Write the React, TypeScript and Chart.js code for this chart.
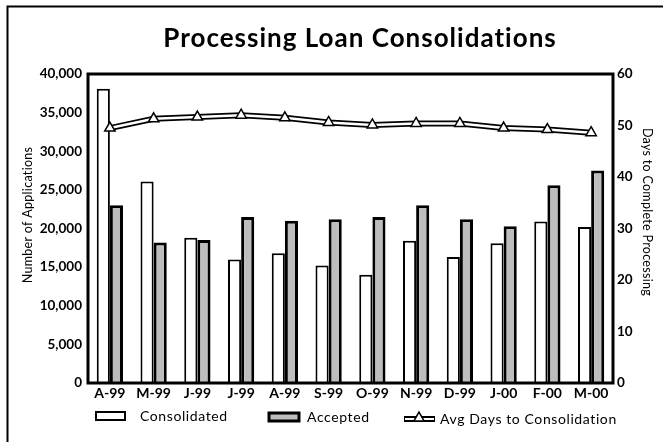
import { useEffect, useRef } from "react";
import { Chart, registerables } from "chart.js";

Chart.register(...registerables);

const months = ["A-99", "M-99", "J-99", "J-99", "A-99", "S-99", "O-99", "N-99", "D-99", "J-00", "F-00", "M-00"];
const consolidated = [38100, 26100, 18800, 16000, 16800, 15200, 14000, 18400, 16300, 18100, 20900, 20200];
const accepted = [23000, 18200, 18500, 21500, 21000, 21200, 21500, 23000, 21200, 20300, 25600, 27500];
const avgDays = [49.5, 51.3, 51.65, 52.0, 51.5, 50.6, 50.1, 50.4, 50.4, 49.5, 49.2, 48.6];

const titleText = "Processing Loan Consolidations";
const leftTitle = "Number of Applications";
const rightTitle = "Days to Complete Processing";
const legendLabels = ["Consolidated", "Accepted", "Avg Days to Consolidation"];

const FONT = "Lato, 'DejaVu Sans', sans-serif";
const ACCEPTED_FILL = "#bdbdbd";

function drawTriangle(ctx: CanvasRenderingContext2D, x: number, y: number, r: number) {
  ctx.beginPath();
  let rad = 0;
  ctx.moveTo(x + Math.sin(rad) * r, y - Math.cos(rad) * r);
  rad += (2 * Math.PI) / 3;
  ctx.lineTo(x + Math.sin(rad) * r, y - Math.cos(rad) * r);
  rad += (2 * Math.PI) / 3;
  ctx.lineTo(x + Math.sin(rad) * r, y - Math.cos(rad) * r);
  ctx.closePath();
  ctx.fillStyle = "#fff";
  ctx.fill();
  ctx.lineWidth = 1.5;
  ctx.strokeStyle = "#000";
  ctx.stroke();
}

const decorPlugin = {
  id: "decor",
  afterDatasetsDraw(chart: any) {
    const { ctx, chartArea } = chart;
    ctx.save();
    ctx.strokeStyle = "#000";
    ctx.lineWidth = 3;
    ctx.strokeRect(chartArea.left, chartArea.top, chartArea.right - chartArea.left, chartArea.bottom - chartArea.top);
    ctx.restore();
  },
  afterDraw(chart: any) {
    const { ctx } = chart;
    ctx.save();
    // outer border
    ctx.strokeStyle = "#000";
    ctx.lineWidth = 2;
    ctx.strokeRect(7.5, 6.5, 700, 500);
    // title
    ctx.fillStyle = "#000";
    (ctx as any).letterSpacing = "1px";
    ctx.font = `bold 26px ${FONT}`;
    ctx.textAlign = "center";
    ctx.textBaseline = "alphabetic";
    ctx.fillText(titleText, 360, 47);
    // axis titles
    (ctx as any).letterSpacing = "0.3px";
    ctx.font = `12.5px ${FONT}`;
    ctx.textBaseline = "middle";
    ctx.save();
    ctx.translate(28, 215);
    ctx.rotate(-Math.PI / 2);
    ctx.fillText(leftTitle, 0, 0);
    ctx.restore();
    ctx.save();
    ctx.translate(647, 212);
    ctx.rotate(Math.PI / 2);
    ctx.fillText(rightTitle, 0, 0);
    ctx.restore();
    // legend
    (ctx as any).letterSpacing = "0.6px";
    ctx.font = `14px ${FONT}`;
    ctx.textAlign = "left";
    ctx.textBaseline = "middle";
    // consolidated
    ctx.fillStyle = "#fff";
    ctx.fillRect(96, 412, 29, 8);
    ctx.lineWidth = 2;
    ctx.strokeStyle = "#000";
    ctx.strokeRect(96, 412, 29, 8);
    ctx.fillStyle = "#000";
    ctx.fillText(legendLabels[0], 140, 416);
    // accepted
    ctx.fillStyle = ACCEPTED_FILL;
    ctx.fillRect(269, 413, 30, 8);
    ctx.lineWidth = 3;
    ctx.strokeRect(269, 413, 30, 8);
    ctx.fillStyle = "#000";
    ctx.fillText(legendLabels[1], 307, 417);
    // avg days
    ctx.beginPath();
    ctx.moveTo(404, 419);
    ctx.lineTo(435, 419);
    ctx.lineWidth = 6;
    ctx.strokeStyle = "#000";
    ctx.stroke();
    ctx.beginPath();
    ctx.moveTo(405, 419);
    ctx.lineTo(434, 419);
    ctx.lineWidth = 2;
    ctx.strokeStyle = "#fff";
    ctx.stroke();
    drawTriangle(ctx, 419, 418, 6);
    ctx.fillStyle = "#000";
    ctx.fillText(legendLabels[2], 440, 419);
    ctx.restore();
  },
};

export default function App() {
  const canvasRef = useRef<HTMLCanvasElement | null>(null);

  useEffect(() => {
    if (!canvasRef.current) return;
    const chart = new Chart(canvasRef.current, {
      type: "bar",
      data: {
        labels: months,
        datasets: [
          {
            type: "line",
            label: legendLabels[2],
            data: avgDays,
            yAxisID: "y1",
            borderColor: "#fff",
            borderWidth: 2.5,
            pointStyle: "triangle",
            pointRadius: 6,
            pointBackgroundColor: "#fff",
            pointBorderColor: "#000",
            pointBorderWidth: 1.5,
            tension: 0,
            order: 0,
          },
          {
            type: "line",
            label: "outline",
            data: avgDays,
            yAxisID: "y1",
            borderColor: "#000",
            borderWidth: 6,
            pointRadius: 0,
            tension: 0,
            order: 1,
          },
          {
            type: "bar",
            label: legendLabels[0],
            data: consolidated,
            yAxisID: "y",
            backgroundColor: "#fff",
            borderColor: "#000",
            borderWidth: 2,
            categoryPercentage: 0.6,
            barPercentage: 1.0,
            order: 2,
          },
          {
            type: "bar",
            label: legendLabels[1],
            data: accepted,
            yAxisID: "y",
            backgroundColor: ACCEPTED_FILL,
            borderColor: "#000",
            borderWidth: 3,
            categoryPercentage: 0.6,
            barPercentage: 1.0,
            order: 2,
          },
        ],
      },
      options: {
        responsive: false,
        animation: false,
        layout: { padding: { left: 0, right: 0, top: 74, bottom: 39 } },
        plugins: {
          legend: { display: false },
          title: { display: false },
          tooltip: { enabled: false },
        },
        scales: {
          x: {
            grid: { display: false, drawTicks: false },
            border: { display: false },
            ticks: { color: "#000", font: { family: FONT, size: 14, weight: "bold" }, padding: 2, maxRotation: 0, autoSkip: false },
            afterFit: (s: any) => {
              s.height = 20;
            },
          },
          y: {
            position: "left",
            min: 0,
            max: 40000,
            grid: { display: false, drawTicks: false },
            border: { display: false },
            ticks: {
              stepSize: 5000,
              color: "#000",
              padding: 6,
              font: { family: FONT, size: 13.5, weight: "bold" },
              callback: (v: any) => Number(v).toLocaleString("en-US"),
            },
            afterFit: (s: any) => {
              s.width = 88;
            },
          },
          y1: {
            position: "right",
            min: 0,
            max: 60,
            grid: { display: false, drawTicks: false },
            border: { display: false },
            ticks: {
              stepSize: 10,
              color: "#000",
              padding: 4,
              font: { family: FONT, size: 13.5, weight: "bold" },
            },
            afterFit: (s: any) => {
              s.width = 50;
            },
          },
        },
      },
      plugins: [decorPlugin],
    } as any);
    return () => chart.destroy();
  }, []);

  return (
    <div style={{ position: "absolute", left: 0, top: 0, width: 663, height: 442, background: "#fff" }}>
      <canvas ref={canvasRef} width={663} height={442} style={{ display: "block" }} />
    </div>
  );
}
